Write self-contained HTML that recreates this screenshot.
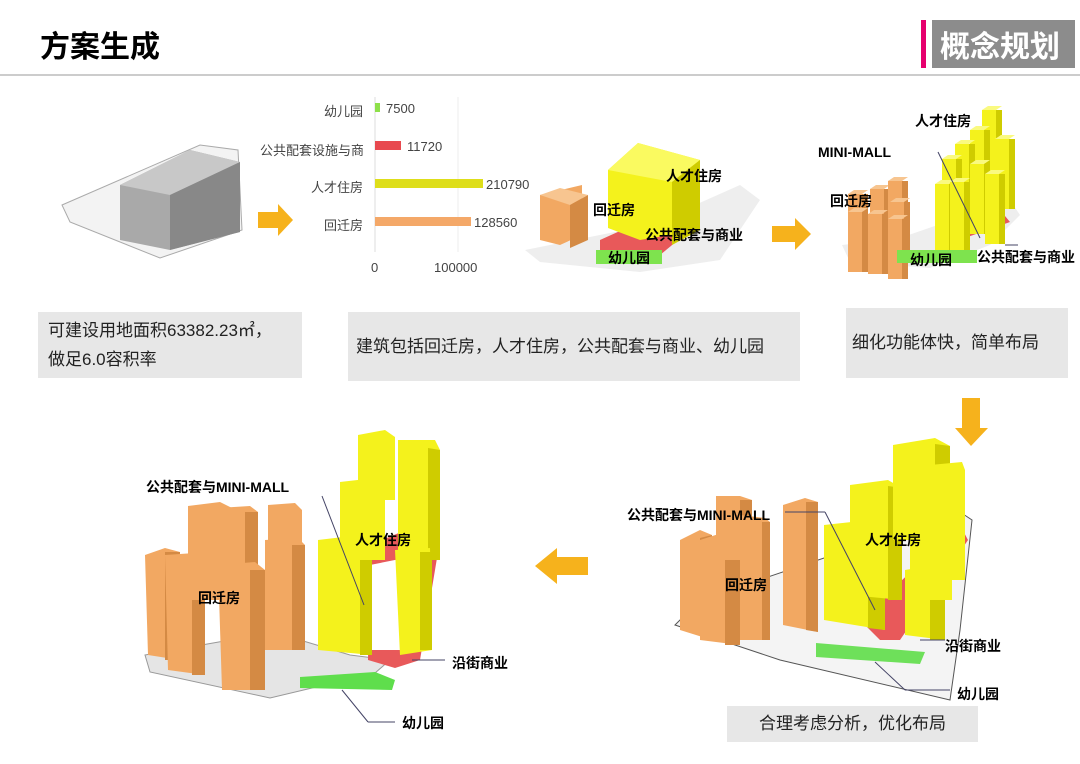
<!DOCTYPE html>
<html><head><meta charset="utf-8"><style>
body{margin:0;width:1080px;height:764px;background:#fff;overflow:hidden;position:relative;font-family:"Liberation Sans","Noto Sans CJK SC",sans-serif}
.t{position:absolute;white-space:nowrap}
.box{position:absolute;background:#e7e7e7;font-size:17px;color:#222}
svg{position:absolute;left:0;top:0}
</style></head><body>
<svg width="1080" height="764" viewBox="0 0 1080 764" font-family="Liberation Sans, Noto Sans CJK SC, sans-serif">
<defs>
<g id="ot"><rect x="0" y="4" width="14" height="60" fill="#f2a862"/><rect x="14" y="4" width="6" height="60" fill="#d48a44"/><polygon points="0,4 6,0 20,0 14,4" fill="#f7c590"/></g>
<g id="yt"><rect x="0" y="4" width="14" height="70" fill="#f4f21c"/><rect x="14" y="4" width="6" height="70" fill="#cfcc00"/><polygon points="0,4 6,0 20,0 14,4" fill="#fafa80"/></g>
</defs>
<line x1="0" y1="75" x2="1080" y2="75" stroke="#bbb" stroke-width="1.5"/>
<rect x="921" y="20" width="5" height="48" fill="#e6006e"/>
<rect x="932" y="20" width="143" height="48" fill="#8c8c8c"/>
<!-- site 1 -->
<polygon points="62,205 200,145 238,150 242,230 160,258 70,222" fill="#f3f3f3" stroke="#aaa"/>
<polygon points="120,185 190,150 240,162 240,232 170,250 120,240" fill="#a9a9a9"/>
<polygon points="120,185 190,150 240,162 170,195" fill="#c8c8c8"/>
<polygon points="170,195 240,162 240,232 170,250" fill="#888"/>
<!-- arrows -->
<polygon points="258,212 278,212 278,204 293,220 278,236 278,228 258,228" fill="#f6b21c"/>
<polygon points="772,226 795,226 795,218 811,234 795,250 795,242 772,242" fill="#f6b21c"/>
<polygon points="962,398 980,398 980,428 988,428 971,446 955,428 962,428" fill="#f6b21c"/>
<polygon points="588,557 557,557 557,548 535,566 557,584 557,575 588,575" fill="#f6b21c"/>
<!-- chart -->
<line x1="375" y1="97" x2="375" y2="252" stroke="#ddd"/>
<line x1="458" y1="97" x2="458" y2="252" stroke="#eee"/>
<rect x="375" y="103" width="5" height="9" fill="#8ee04a"/>
<rect x="375" y="141" width="26" height="9" fill="#e8494f"/>
<rect x="375" y="179" width="108" height="9" fill="#dede1a"/>
<rect x="375" y="217" width="96" height="9" fill="#f4a868"/>
<!-- site 2 -->
<polygon points="525,250 650,225 740,185 760,200 720,260 640,272 540,262" fill="#eee"/>
<polygon points="540,195 582,185 582,235 560,245 540,240" fill="#f2a862"/>
<polygon points="540,195 560,188 588,195 570,205" fill="#f7c590"/>
<polygon points="570,205 588,195 588,240 570,248" fill="#d48a44"/>
<polygon points="600,240 640,222 700,222 660,255 600,250" fill="#e8595a"/>
<polygon points="608,170 638,143 700,160 700,230 640,240 608,228" fill="#f4f21c"/>
<polygon points="608,170 638,143 700,160 672,182" fill="#fafa60"/>
<polygon points="672,182 700,160 700,230 672,245" fill="#cfcc00"/>
<rect x="596" y="250" width="66" height="14" fill="#7ee34e"/>
<!-- site 3 -->
<polygon points="842,245 900,238 1010,200 1020,215 990,245 930,268 850,262" fill="#eee"/>
<polygon points="935,235 1000,210 1010,222 945,245" fill="#e8595a"/>
<use href="#ot" x="848" y="190"/><use href="#ot" x="870" y="185"/><use href="#ot" x="888" y="180" transform="translate(0,-3)"/>
<use href="#ot" x="890" y="198"/><use href="#ot" x="868" y="210" transform="scale(1,1)"/><use href="#ot" x="848" y="208"/><use href="#ot" x="888" y="215"/>
<use href="#yt" x="982" y="106"/><use href="#yt" x="970" y="126"/><use href="#yt" x="995" y="135"/><use href="#yt" x="955" y="140"/>
<use href="#yt" x="970" y="160"/><use href="#yt" x="942" y="155"/><use href="#yt" x="985" y="170"/><use href="#yt" x="935" y="180"/><use href="#yt" x="950" y="178"/>
<rect x="897" y="250" width="80" height="13" fill="#7ee34e"/>
<line x1="938" y1="152" x2="980" y2="238" stroke="#446"/>
<line x1="1005" y1="245" x2="1018" y2="245" stroke="#446"/>
<!-- site 4 -->
<polygon points="675,625 700,600 960,512 972,520 960,630 950,700 780,660" fill="#f4f4f4" stroke="#555"/>
<g>
<polygon points="680,540 700,530 712,535 712,640 680,630" fill="#f2a862"/><polygon points="700,538 712,535 712,640 700,640" fill="#d48a44"/>
<polygon points="700,540 725,532 740,538 740,645 700,640" fill="#f2a862"/><polygon points="725,540 740,538 740,645 725,645" fill="#d48a44"/>
<polygon points="716,496 740,496 752,500 752,560 716,560" fill="#f2a862"/><polygon points="740,500 752,500 752,560 740,560" fill="#d48a44"/>
<polygon points="740,515 765,518 770,522 770,640 740,640" fill="#f2a862"/><polygon points="762,522 770,522 770,640 762,640" fill="#d48a44"/>
<polygon points="783,505 805,498 818,502 818,632 783,625" fill="#f2a862"/><polygon points="806,502 818,502 818,632 806,630" fill="#d48a44"/>
</g>
<polygon points="860,620 960,525 968,540 900,640 880,640" fill="#e8595a"/>
<polygon points="824,525 870,520 885,530 885,630 824,620" fill="#f4f21c"/><polygon points="868,528 885,530 885,630 868,628" fill="#cfcc00"/>
<polygon points="850,485 888,480 902,488 902,600 850,595" fill="#f4f21c"/><polygon points="888,486 902,488 902,600 888,600" fill="#cfcc00"/>
<polygon points="893,445 935,438 950,446 950,540 893,540" fill="#f4f21c"/><polygon points="935,444 950,446 950,540 935,540" fill="#cfcc00"/>
<polygon points="930,465 962,462 965,470 965,580 930,580" fill="#f4f21c"/>
<polygon points="905,570 935,565 945,575 945,640 905,635" fill="#f4f21c"/><polygon points="930,570 945,575 945,640 930,640" fill="#cfcc00"/>
<polygon points="910,540 945,535 952,545 952,600 910,600" fill="#f4f21c"/>
<polygon points="816,643 925,652 920,664 816,657" fill="#6ee05a"/>
<line x1="785" y1="512" x2="825" y2="512" stroke="#446"/><line x1="825" y1="512" x2="875" y2="610" stroke="#446"/>
<line x1="875" y1="662" x2="905" y2="690" stroke="#446"/><line x1="905" y1="690" x2="950" y2="690" stroke="#446"/>
<line x1="920" y1="640" x2="945" y2="640" stroke="#446"/>
<!-- site 5 -->
<polygon points="145,655 230,640 300,640 350,655 390,660 375,673 270,698 150,672" fill="#e5e5e5" stroke="#999"/>
<g>
<polygon points="145,555 165,548 180,552 180,660 148,655" fill="#f2a862"/><polygon points="165,552 180,552 180,660 165,660" fill="#d48a44"/>
<polygon points="165,555 195,553 205,560 205,675 168,670" fill="#f2a862"/><polygon points="192,560 205,560 205,675 192,675" fill="#d48a44"/>
<polygon points="188,506 220,502 232,508 232,600 188,600" fill="#f2a862"/>
<polygon points="218,508 250,506 258,512 258,590 218,590" fill="#f2a862"/><polygon points="245,512 258,512 258,590 245,590" fill="#d48a44"/>
<polygon points="218,565 255,562 265,570 265,690 222,690" fill="#f2a862"/><polygon points="250,570 265,570 265,690 250,690" fill="#d48a44"/>
<polygon points="268,505 295,503 302,510 302,560 268,560" fill="#f2a862"/>
<polygon points="265,540 298,538 305,545 305,650 265,650" fill="#f2a862"/><polygon points="292,545 305,545 305,650 292,650" fill="#d48a44"/>
</g>
<polygon points="370,545 430,520 440,540 420,660 395,668 368,660" fill="#e8595a"/>
<polygon points="370,565 420,555 420,650 370,650" fill="#fff"/>
<polygon points="318,540 360,535 372,545 372,655 318,650" fill="#f4f21c"/><polygon points="360,545 372,545 372,655 360,655" fill="#cfcc00"/>
<polygon points="340,482 375,478 385,485 385,560 340,560" fill="#f4f21c"/>
<polygon points="358,435 385,430 395,437 395,500 358,500" fill="#f4f21c"/>
<polygon points="398,440 435,440 440,450 440,560 398,560" fill="#f4f21c"/><polygon points="428,448 440,450 440,560 428,560" fill="#cfcc00"/>
<polygon points="395,550 430,548 432,650 400,655" fill="#f4f21c"/><polygon points="420,552 432,552 432,650 420,650" fill="#cfcc00"/>
<polygon points="300,677 375,672 395,680 392,690 300,688" fill="#5fde4c"/>
<line x1="322" y1="496" x2="364" y2="605" stroke="#446"/>
<line x1="412" y1="660" x2="445" y2="660" stroke="#446"/>
<line x1="342" y1="690" x2="368" y2="722" stroke="#446"/><line x1="368" y1="722" x2="395" y2="722" stroke="#446"/>
</svg>
<div class="t" style="left:40px;top:22px;font-size:30px;font-weight:bold">方案生成</div>
<div class="t" style="left:940px;top:22px;font-size:30px;font-weight:bold;color:#fff">概念规划</div>
<div class="t" style="left:300px;top:101px;font-size:13px;width:63px;text-align:right;color:#444">幼儿园</div>
<div class="t" style="left:386px;top:101px;font-size:13px;color:#444">7500</div>
<div class="t" style="left:260px;top:140px;font-size:13px;width:103px;text-align:right;color:#444;overflow:hidden">公共配套设施与商...</div>
<div class="t" style="left:407px;top:139px;font-size:13px;color:#444">11720</div>
<div class="t" style="left:300px;top:177px;font-size:13px;width:63px;text-align:right;color:#444">人才住房</div>
<div class="t" style="left:486px;top:177px;font-size:13px;color:#444">210790</div>
<div class="t" style="left:300px;top:215px;font-size:13px;width:63px;text-align:right;color:#444">回迁房</div>
<div class="t" style="left:474px;top:215px;font-size:13px;color:#444">128560</div>
<div class="t" style="left:371px;top:260px;font-size:13px;color:#444">0</div>
<div class="t" style="left:434px;top:260px;font-size:13px;color:#444">100000</div>
<div class="t" style="left:666px;top:166px;font-size:14px;font-weight:bold">人才住房</div>
<div class="t" style="left:593px;top:200px;font-size:14px;font-weight:bold">回迁房</div>
<div class="t" style="left:645px;top:225px;font-size:14px;font-weight:bold">公共配套与商业</div>
<div class="t" style="left:608px;top:248px;font-size:14px;font-weight:bold">幼儿园</div>
<div class="t" style="left:915px;top:111px;font-size:14px;font-weight:bold">人才住房</div>
<div class="t" style="left:818px;top:144px;font-size:14px;font-weight:bold">MINI-MALL</div>
<div class="t" style="left:830px;top:191px;font-size:14px;font-weight:bold">回迁房</div>
<div class="t" style="left:910px;top:250px;font-size:14px;font-weight:bold">幼儿园</div>
<div class="t" style="left:977px;top:247px;font-size:14px;font-weight:bold">公共配套与商业</div>
<div class="box" style="left:38px;top:312px;width:264px;height:66px;padding-left:10px;line-height:29px;padding-top:4px;box-sizing:border-box">可建设用地面积63382.23㎡，<br>做足6.0容积率</div>
<div class="box" style="left:348px;top:312px;width:452px;height:69px;line-height:69px;padding-left:8px;box-sizing:border-box">建筑包括回迁房，人才住房，公共配套与商业、幼儿园</div>
<div class="box" style="left:846px;top:308px;width:222px;height:70px;line-height:70px;padding-left:6px;box-sizing:border-box">细化功能体快，简单布局</div>
<div class="box" style="left:727px;top:706px;width:251px;height:36px;line-height:36px;text-align:center">合理考虑分析，优化布局</div>
<div class="t" style="left:146px;top:477px;font-size:14px;font-weight:bold">公共配套与MINI-MALL</div>
<div class="t" style="left:355px;top:530px;font-size:14px;font-weight:bold">人才住房</div>
<div class="t" style="left:198px;top:588px;font-size:14px;font-weight:bold">回迁房</div>
<div class="t" style="left:452px;top:653px;font-size:14px;font-weight:bold">沿街商业</div>
<div class="t" style="left:402px;top:713px;font-size:14px;font-weight:bold">幼儿园</div>
<div class="t" style="left:627px;top:505px;font-size:14px;font-weight:bold">公共配套与MINI-MALL</div>
<div class="t" style="left:865px;top:530px;font-size:14px;font-weight:bold">人才住房</div>
<div class="t" style="left:725px;top:575px;font-size:14px;font-weight:bold">回迁房</div>
<div class="t" style="left:945px;top:636px;font-size:14px;font-weight:bold">沿街商业</div>
<div class="t" style="left:957px;top:684px;font-size:14px;font-weight:bold">幼儿园</div>
</body></html>
